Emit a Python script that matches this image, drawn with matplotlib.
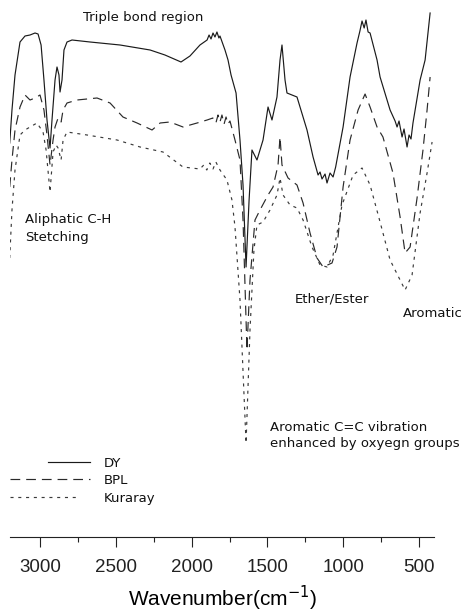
import matplotlib
matplotlib.use("Agg")
import matplotlib.pyplot as plt
from matplotlib.lines import Line2D
from matplotlib.ticker import MultipleLocator

plt.rcParams['lines.scale_dashes'] = False

# FTIR spectra: wavenumber (cm-1) and transmittance (a.u., offset)
dy_wn = [3200, 3185, 3165, 3132, 3099, 3066, 3033, 3013, 2993, 2974,
         2954, 2934, 2921, 2901, 2888, 2875, 2868, 2855, 2842, 2822,
         2789, 2670, 2472, 2274, 2176, 2070, 2011, 1945,
         1898, 1885, 1872, 1859, 1846, 1833, 1820, 1813,
         1780, 1760, 1740, 1707, 1681, 1661, 1641, 1621, 1602,
         1569, 1529, 1496, 1470, 1437, 1417, 1404, 1384, 1371, 1305,
         1239, 1199, 1166, 1153, 1140, 1120, 1107, 1087, 1067, 1050,
         1001, 955, 909, 890, 876, 862, 850, 836, 823,
         777, 757, 691, 658, 645, 632, 612, 599, 579, 566, 553, 540,
         493, 460, 427]
dy_t = [78.8, 85.4, 92.4, 99.0, 100.2, 100.4, 100.8, 100.6, 98.4, 91.4,
        83.4, 77.8, 83.4, 91.4, 94.0, 92.4, 89.0, 91.4, 97.4, 99.0,
        99.4, 99.0, 98.4, 97.4, 96.4, 95.0, 96.2, 98.4,
        99.4, 100.4, 99.6, 100.8, 100.0, 101.0, 99.8, 100.2,
        97.4, 95.4, 92.4, 88.8, 79.4, 70.4, 54.0, 67.4, 77.4,
        75.4, 79.4, 86.0, 83.4, 88.0, 95.4, 98.4, 91.4, 88.8, 88.0,
        81.4, 76.0, 72.4, 73.0, 71.6, 72.6, 70.8, 72.8, 72.0, 74.0,
        82.0, 92.0, 98.8, 101.2, 103.2, 101.8, 103.4, 101.0, 100.8,
        95.4, 92.0, 85.4, 83.2, 82.0, 83.2, 80.0, 81.6, 78.0, 80.4, 79.6, 82.8,
        91.4, 95.4, 104.8]

bpl_wn = [3200, 3185, 3165, 3132, 3099, 3066, 3033, 3000, 2974, 2954,
          2934, 2914, 2901, 2881, 2861, 2848, 2822, 2756, 2624, 2538,
          2453, 2360, 2261, 2208, 2143, 2057, 1964,
          1898, 1860, 1840, 1826, 1813, 1800, 1786, 1773, 1760, 1747,
          1714, 1681, 1661, 1635, 1615, 1582, 1549, 1496, 1463,
          1430, 1417, 1404, 1364, 1305, 1265, 1219, 1173, 1133, 1074,
          1041, 1001, 955, 902, 856, 823, 777, 738, 672, 625,
          592, 559, 513, 474, 447, 427]
bpl_t = [70.0, 75.4, 81.4, 86.0, 88.4, 87.4, 87.8, 88.4, 85.4, 80.4,
         74.4, 79.4, 82.0, 83.8, 83.0, 85.4, 86.8, 87.4, 87.8, 86.8,
         84.0, 82.8, 81.4, 82.8, 83.0, 82.0, 82.8,
         83.4, 83.8, 82.8, 84.4, 83.0, 84.4, 82.6, 84.0, 82.6, 83.2,
         79.4, 75.4, 63.4, 37.4, 51.4, 63.4, 65.4, 68.4, 70.0,
         74.4, 80.0, 74.4, 71.8, 70.4, 66.8, 60.8, 55.8, 54.0, 54.8,
         58.0, 70.0, 79.4, 85.4, 88.6, 86.0, 82.0, 80.0, 72.8, 64.0,
         56.8, 58.0, 67.8, 77.4, 85.4, 92.0]

kur_wn = [3200, 3185, 3165, 3132, 3099, 3066, 3020, 2980, 2960, 2934,
          2914, 2894, 2881, 2861, 2848, 2822, 2690, 2492, 2340, 2189,
          2057, 1945, 1920, 1900, 1880, 1859, 1840, 1813,
          1767, 1734, 1714, 1681, 1641, 1615,
          1589, 1569, 1529, 1483, 1437, 1417, 1397, 1351, 1305, 1265,
          1206, 1153, 1107, 1067, 1008, 935, 876, 823, 757, 691,
          625, 592, 546, 493, 447, 414]
kur_t = [55.8, 65.4, 73.4, 80.4, 81.4, 82.0, 82.8, 81.0, 77.4, 69.0,
         77.0, 78.4, 77.8, 75.4, 79.4, 81.0, 80.4, 79.4, 78.0, 77.0,
         74.0, 73.6, 74.4, 73.4, 74.8, 73.6, 75.0, 73.4,
         71.4, 67.4, 62.0, 47.4, 18.8, 41.4,
         57.4, 62.4, 63.0, 65.4, 68.4, 71.8, 68.4, 66.4, 65.8, 63.4,
         58.0, 54.4, 54.0, 56.4, 66.4, 72.4, 73.8, 70.4, 63.0, 55.4,
         51.4, 49.4, 52.4, 64.8, 72.8, 79.0]

series_labels = ["DY", "BPL", "Kuraray"]
tick_values = [3000, 2500, 2000, 1500, 1000, 500]

W, H = 465, 615
fig = plt.figure(figsize=(W / 100, H / 100), dpi=100)
ax = fig.add_axes([9.7 / W, (H - 537) / H, (434.2 - 9.7) / W, 537 / H])

styles = [
    dict(color="#1a1a1a", lw=0.85, ls="-"),
    dict(color="#2a2a2a", lw=0.85, ls=(0, (7.0, 4.3))),
    dict(color="#3a3a3a", lw=0.85, ls=(0, (2.2, 3.4))),
]
for (wn, t), st in zip([(dy_wn, dy_t), (bpl_wn, bpl_t), (kur_wn, kur_t)], styles):
    ax.plot(wn, t, **st)

ax.set_xlim(3200, 400)
ax.set_ylim(0, 107.4)
for side in ("left", "right", "top"):
    ax.spines[side].set_visible(False)
ax.spines["bottom"].set_linewidth(0.8)
ax.spines["bottom"].set_color("#222222")
ax.set_yticks([])
ax.set_xticks(tick_values)
ax.set_xticklabels([str(v) for v in tick_values], fontfamily="Liberation Sans", fontsize=13.5)
ax.xaxis.set_minor_locator(MultipleLocator(250))
ax.tick_params(axis="x", which="major", direction="out", length=7.5, width=0.8,
               pad=8, colors="#222222")
ax.tick_params(axis="x", which="minor", direction="out", length=3.6, width=0.8,
               colors="#222222")
ax.set_xlabel("Wavenumber(cm$^{-1}$)", fontfamily="Liberation Sans", fontsize=15,
              labelpad=6)
ax.patch.set_visible(False)

# band assignments
tkw = dict(fontfamily="DejaVu Sans", fontsize=9.5, color="#111111", va="baseline")
ax.text(2716, 103.2, "Triple bond region", **tkw)
ax.text(3099, 62.8, "Aliphatic C-H", **tkw)
ax.text(3099, 59.2, "Stetching", **tkw)
ax.text(1318, 47.0, "Ether/Ester", **tkw)
ax.text(606, 44.0, "Aromatic", **tkw)
ax.text(1483, 21.2, "Aromatic C=C vibration", **tkw)
ax.text(1483, 18.0, "enhanced by oxyegn groups", **tkw)

# legend
leg_rows = [(462, 48, 90), (479, 10, 90), (497, 10, 80)]
for (yl, x0, x1), st, lab in zip(leg_rows, styles, series_labels):
    fy = 1 - yl / H
    fig.add_artist(Line2D([x0 / W, x1 / W], [fy, fy], transform=fig.transFigure, **st))
    fig.text(104 / W, 1 - (yl + 5) / H, lab, fontfamily="DejaVu Sans", fontsize=9.5,
             color="#111111", va="baseline")

fig.savefig("out.png", dpi=100)
